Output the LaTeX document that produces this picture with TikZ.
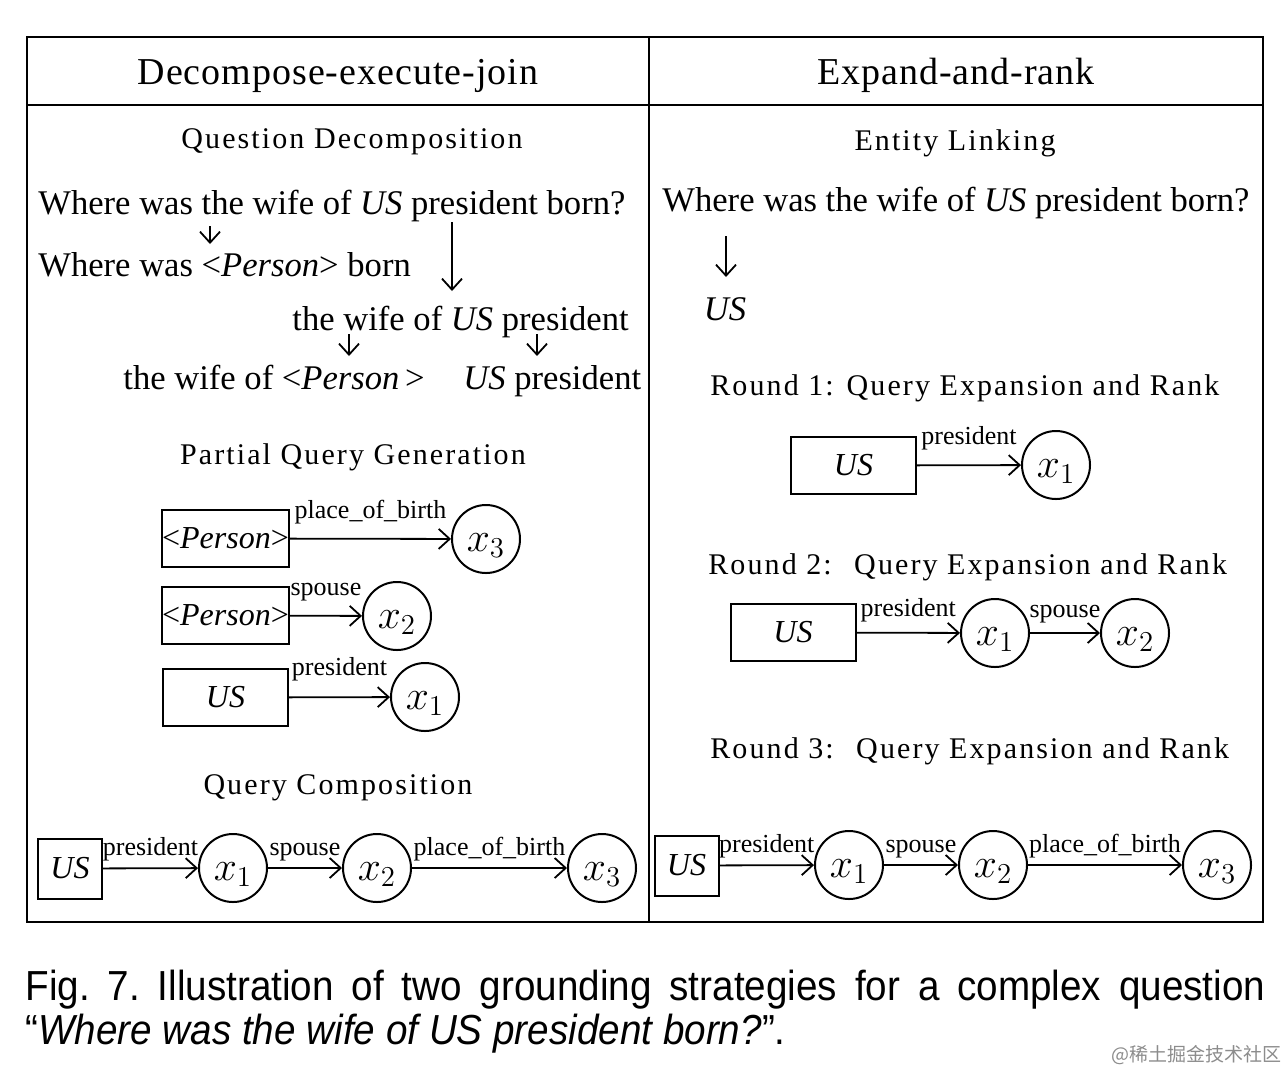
\documentclass[tikz,border=0pt]{standalone}
\usepackage{fontspec}
\setmainfont{Liberation Serif}
\newfontfamily\headfont[LetterSpace=7]{Liberation Serif}
\newfontfamily\titlefont[LetterSpace=2.6]{Liberation Serif}
\newfontfamily\capfont[FakeStretch=0.92]{Liberation Sans}
\newfontfamily\markfont{Noto Sans CJK SC}
\usetikzlibrary{arrows.meta, positioning}

\begin{document}
\begin{tikzpicture}[
  x=0.5pt, y=-0.5pt,
  ent/.style={
    draw, line width=1pt, minimum width=62.5pt, minimum height=28.5pt,
    inner sep=0pt, font=\fontsize{16}{16}\selectfont
  },
  entsm/.style={ent, minimum width=32pt, minimum height=30pt},
  var/.style={
    draw, circle, line width=1pt, minimum size=34pt, inner sep=0pt,
    text height=12pt, text depth=0pt, font=\fontsize{20.74}{21}\selectfont
  },
  rel/.style={anchor=base, inner sep=0pt, yshift=#1, font=\fontsize{13}{13}\selectfont},
  rel/.default=6.5pt,
  arr/.style={-{Straight Barb[length=5.5pt, width=10pt]}, line width=0.9pt},
  title/.style={anchor=base, inner sep=0pt, font=\titlefont\fontsize{19}{19}\selectfont},
  head/.style={anchor=base, inner sep=0pt, font=\headfont\fontsize{15}{15}\selectfont},
  txt/.style={anchor=base west, inner sep=0pt, font=\fontsize{17.3}{17.3}\selectfont}
]
  \useasboundingbox (0,0) rectangle (1288,1072);

  % frame
  \draw[line width=1.2pt] (27,37) rectangle (1263,922);
  \draw[line width=1.2pt] (649,37) -- (649,922);
  \draw[line width=1.2pt] (27,105) -- (1263,105);

  \node[title] (tl) at (338,84) {Decompose-execute-join};
  \node[title] (tr) at (956,84) {Expand-and-rank};

  % question decomposition
  \node[head] (qd) at (352,148) {Question Decomposition};
  \node[txt] (q0) at (38,214) {Where was the wife of \textit{US} president born?};
  \node[txt] (q1) at (38,276) {Where was <\textit{Person}> born};
  \node[txt] (q2) at (292,330) {the wife of \textit{US} president};
  \node[txt] (q3) at (123,389) {the wife of <\textit{Person}\,>};
  \node[txt] (q4) at (463,389) {\textit{US} president};

  \foreach \n/\x/\ya/\yb in
    {a/210/226/244, b/452/222/291, c/349/334/356, d/537/334/356, e/726/236/277}
  {
    \coordinate (\n1) at (\x,\ya);
    \coordinate (\n2) at (\x,\yb);
    \draw[arr] (\n1) -- (\n2);
  }

  % partial query generation
  \node[head] (pq) at (353,464) {Partial Query Generation};
  \node[ent] (p3) at (225.5,538.5) {<\textit{Person}>};
  \node[var] (p3x) at (486,539) {$x_3$};
  \node[ent] (p2) at (225.5,615.5) {<\textit{Person}>};
  \node[var] (p2x) at (397,616) {$x_2$};
  \node[ent] (p1) at (225.5,697.5) {\textit{US}};
  \node[var] (p1x) at (425,697) {$x_1$};
  \draw[arr] (p3) -- node[rel=10pt] {place\_of\_birth} (p3x);
  \draw[arr] (p2) -- node[rel=10pt] {spouse} (p2x);
  \draw[arr] (p1) -- node[rel=11pt] {president} (p1x);

  % query composition
  \node[head] (qc) at (338,794) {Query Composition};
  \node[entsm] (c0) at (70,868.5) {\textit{US}};
  \node[var] (c1) at (233,868) {$x_1$};
  \node[var] (c2) at (377,868) {$x_2$};
  \node[var] (c3) at (602,868) {$x_3$};
  \draw[arr] (c0) -- node[rel] {president} (c1);
  \draw[arr] (c1) -- node[rel] {spouse} (c2);
  \draw[arr] (c2) -- node[rel] {place\_of\_birth} (c3);

  % entity linking
  \node[head] (el) at (955,150) {Entity Linking};
  \node[txt] (r0) at (662,211) {Where was the wife of \textit{US} president born?};
  \node[txt, anchor=base] (r1) at (725,320) {\textit{US}};

  % round 1
  \node[head, anchor=base west] (h1) at (710,395) {Round 1: Query Expansion and Rank};
  \node[ent] (u1) at (853.5,465.5) {\textit{US}};
  \node[var] (u1x) at (1056,465) {$x_1$};
  \draw[arr] (u1) -- node[rel=10.5pt] {president} (u1x);

  % round 2
  \node[head, anchor=base west] (h2) at (708,574) {Round 2:~ Query Expansion and Rank};
  \node[ent] (u2) at (793,632.5) {\textit{US}};
  \node[var] (u2x) at (995,633) {$x_1$};
  \node[var] (u2y) at (1135,633) {$x_2$};
  \draw[arr] (u2) -- node[rel=8pt] {president} (u2x);
  \draw[arr] (u2x) -- node[rel=8pt] {spouse} (u2y);

  % round 3
  \node[head, anchor=base west] (h3) at (710,758) {Round 3:~ Query Expansion and Rank};
  \node[entsm] (u3) at (686.5,865.5) {\textit{US}};
  \node[var] (u3x) at (849,865) {$x_1$};
  \node[var] (u3y) at (993,865) {$x_2$};
  \node[var] (u3z) at (1217,865) {$x_3$};
  \draw[arr] (u3) -- node[rel] {president} (u3x);
  \draw[arr] (u3x) -- node[rel] {spouse} (u3y);
  \draw[arr] (u3y) -- node[rel] {place\_of\_birth} (u3z);

  % caption
  \node[anchor=north west, inner sep=0pt, text width=620pt, align=justify,
    font=\capfont\fontsize{21}{22}\selectfont\frenchspacing] (cap) at (25,970)
    {Fig. 7. Illustration of two grounding strategies for a complex question\linebreak
     “\textit{Where was the wife of US president born?}”.};
  \node[anchor=base east, inner sep=0pt, text=black!45,
    font=\markfont\fontsize{9.5}{10}\selectfont] (wm) at (1282,1061) {@稀土掘金技术社区};
\end{tikzpicture}
\end{document}
